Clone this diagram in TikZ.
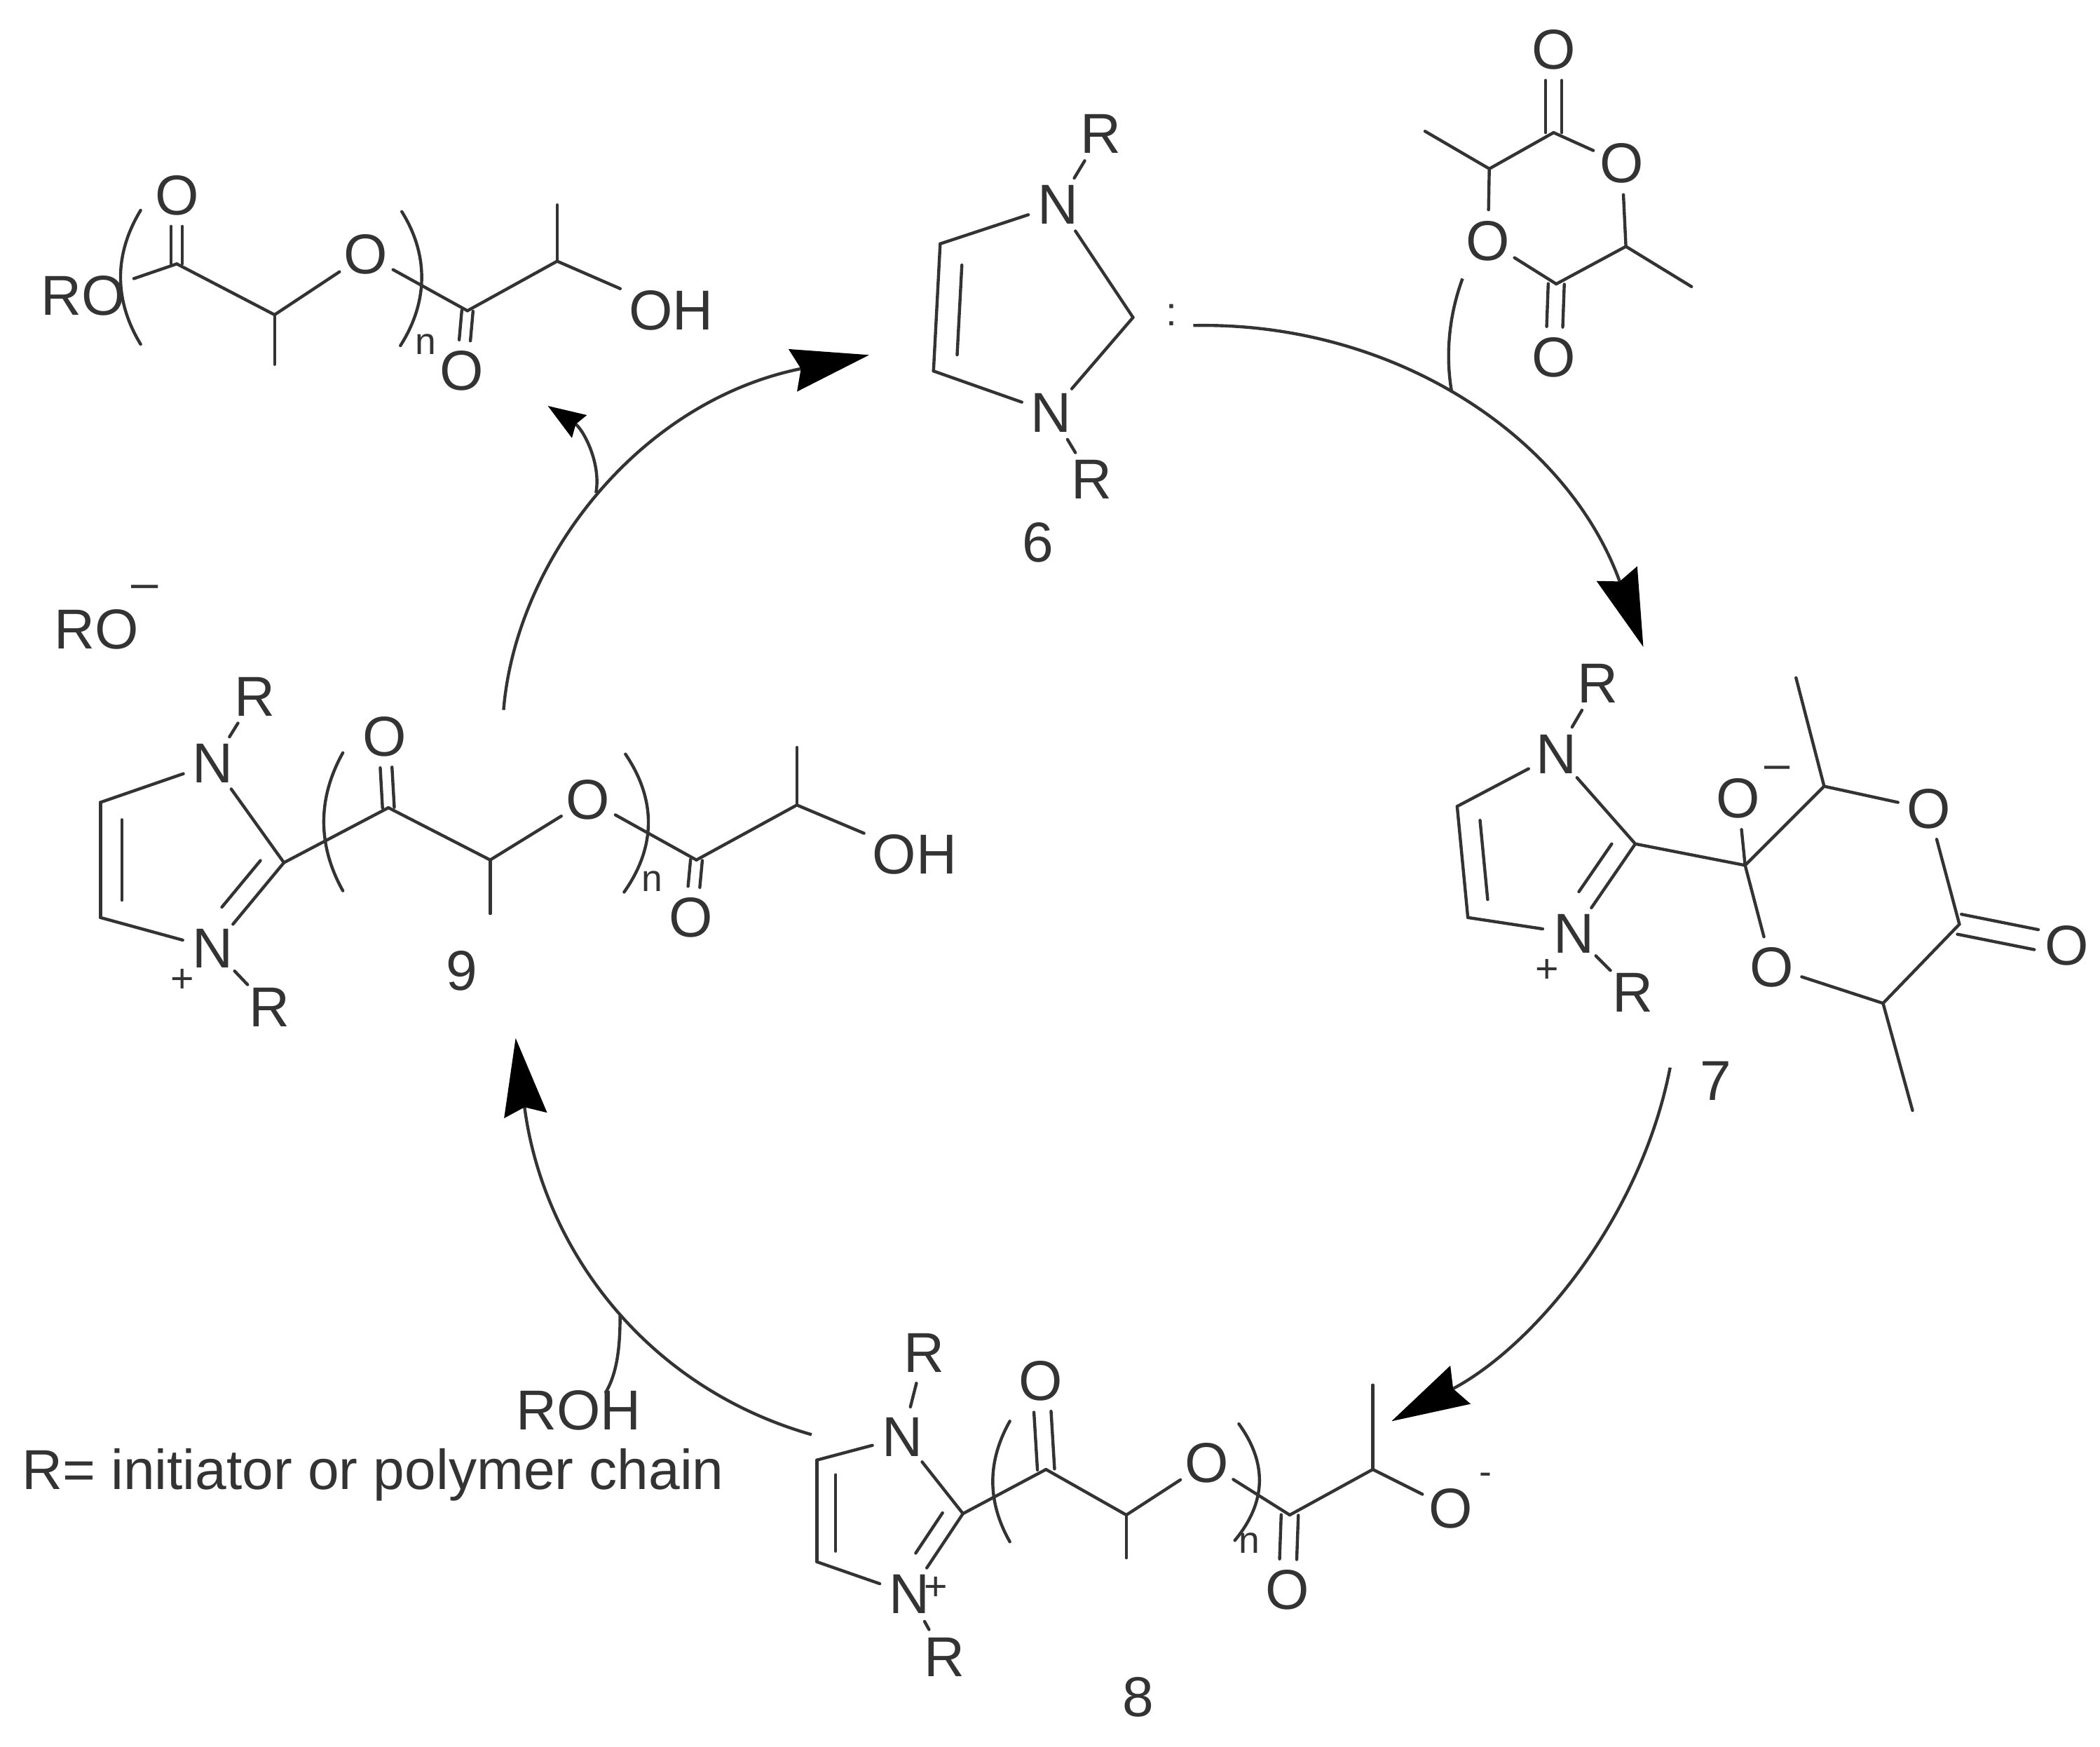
\documentclass[tikz,border=0pt]{standalone}
\usepackage{fontspec}
\setmainfont{Liberation Sans}
\usetikzlibrary{calc,arrows.meta}
\definecolor{ink}{gray}{0.2}
\tikzset{
  bond/.style={draw=ink,line width=1.15pt,line cap=round},
  atom/.style={circle,inner sep=0pt,minimum size=23pt,text=ink,font=\fontsize{21}{21}\selectfont},
  group/.style={rectangle,inner sep=3pt,text=ink,font=\fontsize{21}{21}\selectfont},
  label/.style={inner sep=0pt,text=ink,font=\fontsize{21}{21}\selectfont},
  small/.style={inner sep=0pt,text=ink,font=\fontsize{14}{14}\selectfont},
  cycle/.style={draw=ink,line width=1.15pt,-{Stealth[length=29pt,width=16pt,inset=3pt,color=black]}},
  sidecurve/.style={draw=ink,line width=1.15pt},
  release/.style={draw=ink,line width=1.15pt,-{Stealth[length=14pt,width=10pt,inset=1.5pt,color=black]}}
}
\newcommand{\dbl}[5]{\draw[bond,shorten <=#4,shorten >=#5] ($(#1)!#3!90:(#2)$) -- ($(#2)!#3!-90:(#1)$);}
\newcommand{\cdo}[3]{\dbl{#1}{#2}{#3}{0pt}{11.5pt}\dbl{#1}{#2}{-#3}{0pt}{11.5pt}}
\newcommand{\sbonds}[1]{\foreach \p/\q in {#1}{\draw[bond] (\p) -- (\q);}}
\begin{document}
\begin{tikzpicture}[x=0.5pt,y=-0.5pt]
\useasboundingbox (0,0) rectangle (1568,1304.2);
\fill[white] (0,0) rectangle (1568,1304.2);

% --- top-left polymer
\node[group] (aRO) at (62,221) {RO};
\coordinate (aC1) at (132,197);
\node[atom] (aO1) at (132,146) {O};
\coordinate (aC2) at (205,235);
\coordinate (aMe) at (205,272);
\node[atom] (aO2) at (273,190) {O};
\coordinate (aC3) at (349,232);
\node[atom] (aO3) at (345,277) {O};
\coordinate (aC4) at (416,195);
\coordinate (aMe2) at (416,153);
\node[group] (aOH) at (501,232) {OH};
\node[small] (an) at (318,257) {n};
\sbonds{aRO/aC1,aC1/aC2,aC2/aMe,aC2/aO2,aO2/aC3,aC3/aC4,aC4/aMe2,aC4/aOH}
\cdo{aC1}{aO1}{2.1pt}
\cdo{aC3}{aO3}{2.1pt}
\draw[bond] (105,157) .. controls (85,190) and (85,224) .. (105,257);
\draw[bond] (300,158) .. controls (320,190) and (320,225) .. (299,258);

% --- compound 6
\node[atom] (bN1) at (790,153) {N};
\node[atom] (bN2) at (785,308) {N};
\node[atom] (bR1) at (822,100) {R};
\node[atom] (bR2) at (815,358) {R};
\coordinate (bC1) at (702,182);
\coordinate (bC2) at (697,277);
\coordinate (bC3) at (846,237);
\sbonds{bN1/bC1,bC1/bC2,bC2/bN2,bN2/bC3,bC3/bN1,bN1/bR1,bN2/bR2}
\dbl{bC1}{bC2}{8.5pt}{7.5pt}{6.5pt}
\node[label,font=\fontsize{15}{15}\selectfont] (bLP) at (875,235) {:};
\node[label] (b6) at (775,405) {6};

% --- lactide
\node[atom] (cOa) at (1160,37) {O};
\coordinate (cC1) at (1160,99);
\node[atom] (cO1) at (1211,122) {O};
\coordinate (cC2) at (1214,184);
\coordinate (cMe1) at (1263,214);
\coordinate (cC3) at (1162,212);
\node[atom] (cOb) at (1160,267) {O};
\node[atom] (cO2) at (1111,180) {O};
\coordinate (cC4) at (1112,126);
\coordinate (cMe2) at (1064,98);
\sbonds{cC1/cO1,cO1/cC2,cC2/cMe1,cC2/cC3,cC3/cO2,cO2/cC4,cC4/cMe2,cC4/cC1}
\cdo{cC1}{cOa}{3pt}
\cdo{cC3}{cOb}{3pt}

% --- compound 7
\node[atom] (dR1) at (1193,510) {R};
\node[atom] (dN1) at (1162,563) {N};
\coordinate (dC1) at (1088,602);
\coordinate (dC2) at (1096,685);
\node[atom] (dN2) at (1175,697) {N};
\coordinate (dC3) at (1221,630);
\node[atom] (dR2) at (1219,741) {R};
\node[label,font=\fontsize{15}{15}\selectfont] (dP) at (1155,725) {+};
\coordinate (dS) at (1303,646);
\node[atom] (dOm) at (1298,596) {O};
\node[label,font=\fontsize{17}{17}\selectfont] (dM) at (1327,577) {–};
\coordinate (dC4) at (1362,587);
\coordinate (dMe1) at (1341,506);
\node[atom] (dO1) at (1440,604) {O};
\coordinate (dC5) at (1463,690);
\node[atom] (dO3) at (1543,706) {O};
\coordinate (dC6) at (1406,749);
\node[atom] (dO2) at (1323,722) {O};
\coordinate (dMe2) at (1428,829);
\sbonds{dN1/dR1,dN1/dC1,dC1/dC2,dC2/dN2,dN2/dC3,dC3/dN1,dN2/dR2,dC3/dS,dS/dOm,dS/dC4,dC4/dMe1,dC4/dO1,dO1/dC5,dC5/dC6,dC6/dO2,dO2/dS,dC6/dMe2}
\dbl{dC1}{dC2}{8pt}{6pt}{6pt}
\dbl{dC3}{dN2}{-7.25pt}{5pt}{14pt}
\cdo{dC5}{dO3}{3.8pt}
\node[label] (d7) at (1281,807) {7};

% --- compound 8
\node[atom] (eR1) at (690,1010) {R};
\node[atom] (eN1) at (674,1073) {N};
\coordinate (eC1) at (610,1090);
\coordinate (eC2) at (610,1166);
\node[atom] (eN2) at (679,1190) {N};
\node[label,font=\fontsize{15}{15}\selectfont] (eP) at (699,1186) {+};
\coordinate (eC3) at (719,1130);
\node[atom] (eR2) at (705,1237) {R};
\coordinate (eC4) at (781,1097);
\node[atom] (eO1) at (777,1031) {O};
\coordinate (eC5) at (841,1131);
\coordinate (eMe1) at (841,1163);
\node[atom] (eO2) at (901,1092) {O};
\coordinate (eC6) at (963,1131);
\node[atom] (eO3) at (961,1187) {O};
\coordinate (eC7) at (1025,1097);
\coordinate (eMe2) at (1025,1034);
\node[atom] (eO4) at (1083,1126) {O};
\node[label,font=\fontsize{14}{14}\selectfont] (eM) at (1109,1104) {-};
\node[small] (en) at (933,1152) {n};
\sbonds{eN1/eR1,eN1/eC1,eC1/eC2,eC2/eN2,eN2/eC3,eC3/eN1,eN2/eR2,eC3/eC4,eC4/eC5,eC5/eMe1,eC5/eO2,eO2/eC6,eC6/eC7,eC7/eMe2,eC7/eO4}
\dbl{eC1}{eC2}{7pt}{5.5pt}{4pt}
\dbl{eC3}{eN2}{-6.5pt}{4pt}{14pt}
\cdo{eC4}{eO1}{3.2pt}
\cdo{eC6}{eO3}{3.2pt}
\draw[bond] (754,1061) .. controls (737,1091) and (737,1121) .. (754,1151);
\draw[bond] (925,1063) .. controls (946,1092) and (946,1121) .. (922,1150);
\node[label] (e8) at (850,1267) {8};

% --- compound 9
\node[atom] (fR1) at (190,520) {R};
\node[atom] (fN1) at (159,570) {N};
\coordinate (fC1) at (75,599);
\coordinate (fC2) at (75,685);
\node[atom] (fN2) at (159,708) {N};
\coordinate (fC3) at (212,644);
\node[atom] (fR2) at (201,752) {R};
\node[label,font=\fontsize{15}{15}\selectfont] (fP) at (136,732) {+};
\coordinate (fC4) at (290,603);
\node[atom] (fO1) at (287,550) {O};
\coordinate (fC5) at (366,642);
\coordinate (fMe1) at (366,682);
\node[atom] (fO2) at (439,597) {O};
\coordinate (fC6) at (520,642);
\node[atom] (fO3) at (516,685) {O};
\coordinate (fC7) at (595,601);
\coordinate (fMe2) at (595,558);
\node[group] (fOH) at (683,638) {OH};
\node[small] (fn) at (487,658) {n};
\sbonds{fN1/fR1,fN1/fC1,fC1/fC2,fC2/fN2,fN2/fC3,fC3/fN1,fN2/fR2,fC3/fC4,fC4/fC5,fC5/fMe1,fC5/fO2,fO2/fC6,fC6/fC7,fC7/fMe2,fC7/fOH}
\dbl{fC1}{fC2}{8pt}{6.5pt}{6.5pt}
\dbl{fC3}{fN2}{-7.25pt}{5pt}{14pt}
\cdo{fC4}{fO1}{2.2pt}
\cdo{fC6}{fO3}{2.2pt}
\draw[bond] (256,562) .. controls (237,596) and (237,631) .. (256,665);
\draw[bond] (467,563) .. controls (490,597) and (490,632) .. (466,666);
\node[label] (f9) at (345,725) {9};

% --- free species and captions
\node[group] (gRO) at (72,470) {RO};
\node[label,font=\fontsize{18}{18}\selectfont] (gM) at (108,442) {–};
\node[group] (gROH) at (432,1053) {ROH};
\node[label,font=\fontsize{21}{21}\selectfont,anchor=west] (gCap) at (16,1101) {R= initiator or polymer chain};

% --- catalytic cycle arrows
\coordinate (s67) at (891,243);
\coordinate (t67) at (1227,483);
\coordinate (s78) at (1247,797);
\coordinate (t78) at (1039,1061);
\coordinate (s89) at (606,1071);
\coordinate (t89) at (385,775);
\coordinate (s96) at (376,530);
\coordinate (t96) at (649,265);
\coordinate (j67) at (1084,293);
\coordinate (h67) at (1092,208);
\coordinate (j89) at (463,982);
\coordinate (h89) at (452,1040);
\coordinate (j96) at (445,368);
\coordinate (t96b) at (409,303);
\draw[cycle] (s67) .. controls (1040,240) and (1170,325) .. (t67);
\draw[cycle] (s78) .. controls (1225,910) and (1145,1005) .. (t78);
\draw[cycle] (s89) .. controls (480,1035) and (405,930) .. (t89);
\draw[cycle] (s96) .. controls (385,420) and (475,300) .. (t96);
\draw[sidecurve] (h67) .. controls (1082,235) and (1079,265) .. (j67);
\draw[sidecurve] (h89) .. controls (461,1025) and (463,1005) .. (j89);
\draw[release] (j96) .. controls (449,345) and (435,320) .. (t96b);
\end{tikzpicture}
\end{document}
